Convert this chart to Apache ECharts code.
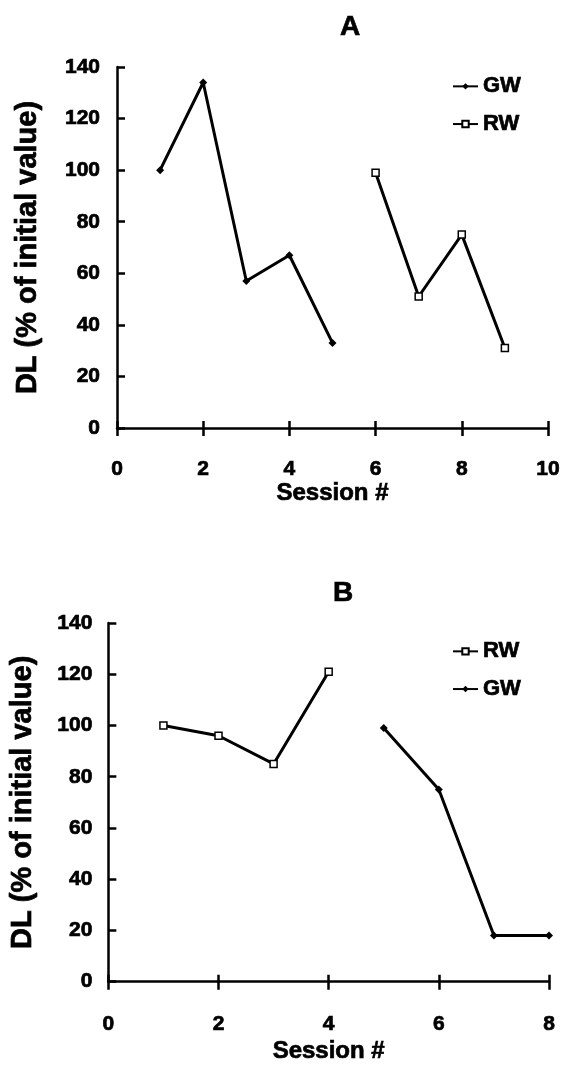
<!DOCTYPE html>
<html>
<head>
<meta charset="utf-8">
<script src="https://cdn.jsdelivr.net/npm/echarts@6/dist/echarts.min.js"></script>
<style>
  html, body { margin: 0; padding: 0; background: #fff; }
  #chart { width: 563px; height: 1065px; }
</style>
</head>
<body>
<div id="chart"></div>
<script>
// Panel A: GW sessions first, then RW sessions
const sessionsA_GW = [1, 2, 3, 4, 5];
const valuesA_GW = [100, 134, 57, 67, 33];
const sessionsA_RW = [6, 7, 8, 9];
const valuesA_RW = [99, 51, 75, 31];

// Panel B: RW sessions first, then GW sessions
const sessionsB_RW = [1, 2, 3, 4];
const valuesB_RW = [100, 96, 85, 121];
const sessionsB_GW = [5, 6, 7, 8];
const valuesB_GW = [99, 75, 18, 18];

const panelTitles = ['A', 'B'];
const xMaxA = 10, xMaxB = 8;
const yMax = 140, yStep = 20, xStep = 2;

const FONT = '"Liberation Sans", Arial, sans-serif';
// heavy bold text: a thin outline in the text colour thickens the strokes
const heavy = { fontFamily: FONT, fontWeight: 'bold', color: '#000', textBorderColor: '#000', textBorderWidth: 0.7 };
const txt = (size, extra) => Object.assign({}, heavy, { fontSize: size }, extra || {});
const pairs = (xs, ys) => xs.map((x, i) => [x, ys[i]]);

const gwStyle = {
  type: 'line', symbol: 'diamond', symbolSize: 8,
  lineStyle: { color: '#000', width: 3 },
  itemStyle: { color: '#000', borderColor: '#000', borderWidth: 0 },
  emphasis: { disabled: true }, animation: false
};
const rwStyle = {
  type: 'line', symbol: 'rect', symbolSize: 7,
  lineStyle: { color: '#000', width: 3 },
  itemStyle: { color: '#fff', borderColor: '#000', borderWidth: 1.5 },
  emphasis: { disabled: true }, animation: false
};

function mainX(gridIndex, max, labelMargin, nameGap) {
  return {
    type: 'value', gridIndex, min: 0, max, interval: xStep, position: 'bottom',
    name: 'Session #', nameLocation: 'middle', nameGap,
    nameTextStyle: txt(24),
    axisLine: { show: true, lineStyle: { color: '#000', width: 2.5 } },
    axisTick: { show: true, inside: false, length: 8, lineStyle: { color: '#000', width: 2.5 } },
    axisLabel: txt(21, { margin: labelMargin }),
    splitLine: { show: false }
  };
}
// companion axis that draws the upper half of the crossing tick marks
function innerX(gridIndex, max) {
  return {
    type: 'value', gridIndex, min: 0, max, interval: xStep, position: 'bottom',
    axisLine: { show: false },
    axisTick: { show: true, inside: true, length: 7, lineStyle: { color: '#000', width: 2.5 } },
    axisLabel: { show: false }, splitLine: { show: false }
  };
}
function yAx(gridIndex, labelMargin, nameGap) {
  return {
    type: 'value', gridIndex, min: 0, max: yMax, interval: yStep,
    name: 'DL (% of initial value)', nameLocation: 'middle', nameGap,
    nameTextStyle: txt(29),
    axisLine: { show: true, lineStyle: { color: '#000', width: 2.5 } },
    axisTick: { show: true, inside: true, length: 8, lineStyle: { color: '#000', width: 2.5 } },
    axisLabel: txt(21, { margin: labelMargin }),
    splitLine: { show: false }
  };
}
const legendBase = {
  orient: 'vertical', itemWidth: 25, itemHeight: 8, itemGap: 15,
  textStyle: txt(22),
  selectedMode: false, padding: 0
};

const chart = echarts.init(document.getElementById('chart'), null, { renderer: 'canvas' });
chart.setOption({
  backgroundColor: '#fff',
  animation: false,
  title: [
    { text: panelTitles[0], left: 345, top: 8, textAlign: 'center', textStyle: txt(28) },
    { text: panelTitles[1], left: 338, top: 574, textAlign: 'center', textStyle: txt(28) }
  ],
  legend: [
    Object.assign({}, legendBase, { left: 452, top: 75, data: ['GW', 'RW'] }),
    Object.assign({}, legendBase, { left: 452, top: 640, data: ['RW', 'GW'] })
  ],
  grid: [
    { left: 117, top: 67, right: 14, bottom: 637 },
    { left: 108, top: 623, right: 14, bottom: 83 }
  ],
  xAxis: [
    mainX(0, xMaxA, 31, 53), innerX(0, xMaxA),
    mainX(1, xMaxB, 32, 58), innerX(1, xMaxB)
  ],
  yAxis: [ yAx(0, 17, 75), yAx(1, 16, 71) ],
  series: [
    Object.assign({}, gwStyle, { name: 'GW', xAxisIndex: 0, yAxisIndex: 0, data: pairs(sessionsA_GW, valuesA_GW) }),
    Object.assign({}, rwStyle, { name: 'RW', xAxisIndex: 0, yAxisIndex: 0, data: pairs(sessionsA_RW, valuesA_RW) }),
    Object.assign({}, rwStyle, { name: 'RW', xAxisIndex: 2, yAxisIndex: 1, data: pairs(sessionsB_RW, valuesB_RW) }),
    Object.assign({}, gwStyle, { name: 'GW', xAxisIndex: 2, yAxisIndex: 1, data: pairs(sessionsB_GW, valuesB_GW) })
  ]
});
</script>
</body>
</html>
